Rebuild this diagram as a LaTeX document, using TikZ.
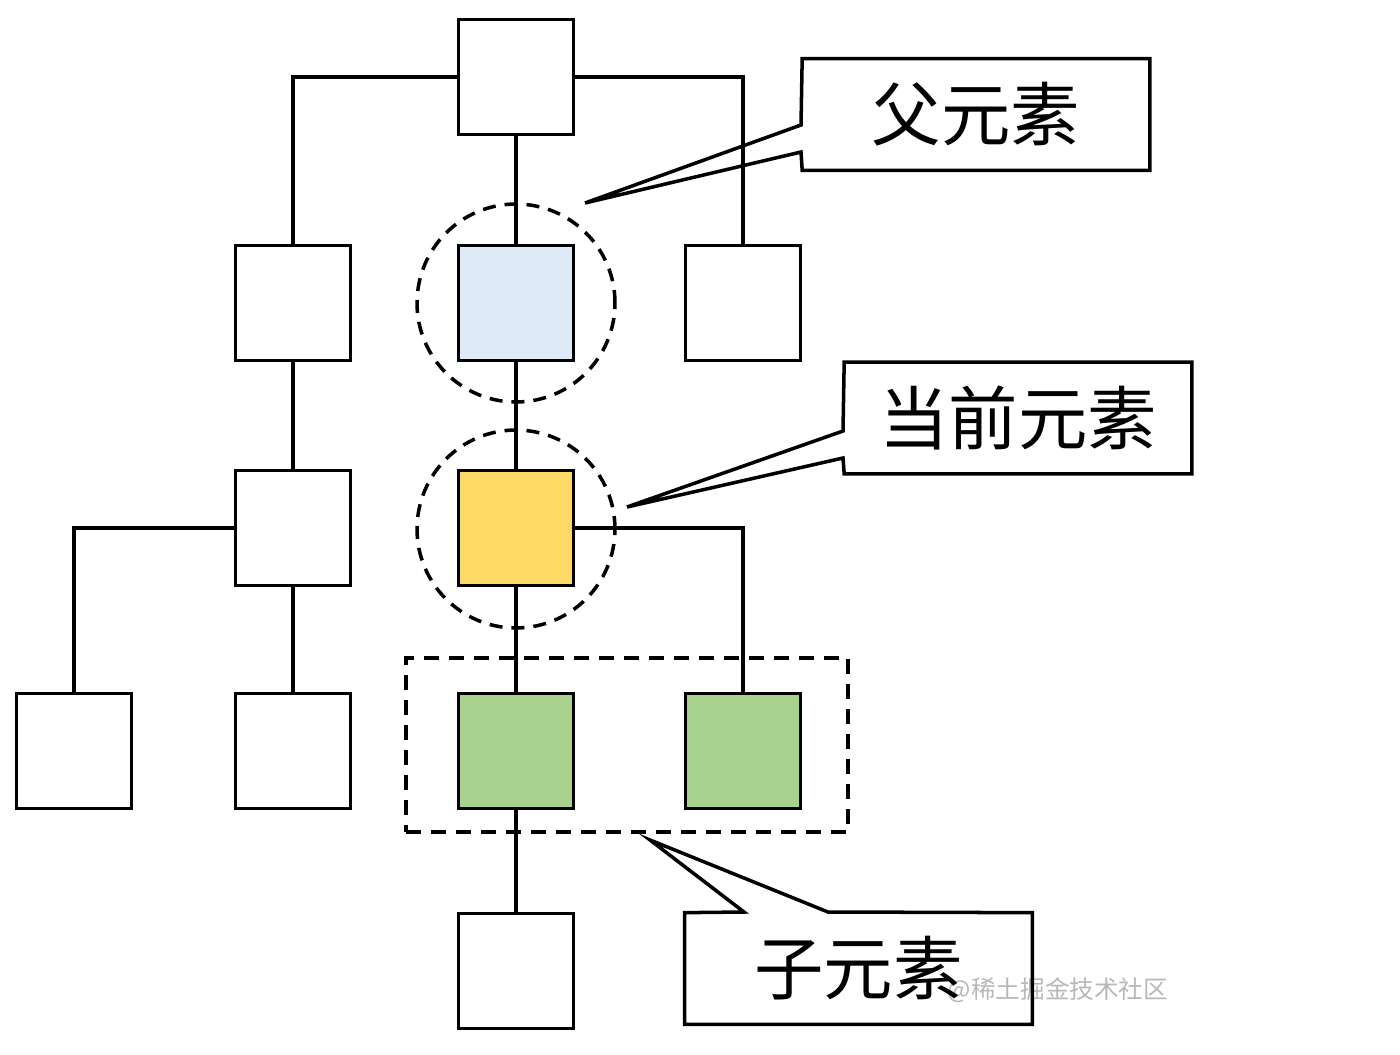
\documentclass[tikz,border=0pt]{standalone}
\usepackage{fontspec}
\newfontfamily\cjk{Noto Sans CJK SC}
\usetikzlibrary{calc}
\definecolor{parentblue}{HTML}{DEEAF6}
\definecolor{curyellow}{HTML}{FFD966}
\definecolor{childgreen}{HTML}{A9D18E}
\tikzset{
  elbox/.style={draw, line width=2pt, minimum size=2.3cm, inner sep=0pt, fill=white},
  conn/.style={line width=1.9pt},
  ring/.style={draw, circle, line width=2pt, dash pattern=on 0.26cm off 0.18cm, minimum size=3.96cm, inner sep=0pt},
  groupbox/.style={draw, line width=2pt, dash pattern=on 0.3cm off 0.2cm},
  calloutbox/.style={minimum width=6.94cm, minimum height=2.22cm, inner sep=0pt, font=\cjk\fontsize{39.5}{39.5}\selectfont},
  callout/.style={line width=2pt, line join=miter}
}
\begin{document}
\begin{tikzpicture}[x=0.02cm, y=-0.02cm]
\useasboundingbox (0,0) rectangle (1400,1055);
% boxes
\node[elbox] (top) at (516,77) {};
\node[elbox] (l2) at (293,303) {};
\node[elbox, fill=parentblue] (m2) at (516,303) {};
\node[elbox] (r2) at (743,303) {};
\node[elbox] (l3) at (293,528) {};
\node[elbox, fill=curyellow] (m3) at (516,528) {};
\node[elbox] (ll4) at (74,751) {};
\node[elbox] (l4) at (293,751) {};
\node[elbox, fill=childgreen] (m4) at (516,751) {};
\node[elbox, fill=childgreen] (r4) at (743,751) {};
\node[elbox] (m5) at (516,971) {};
% connectors
\draw[conn] (top.west) -| (l2.north);
\draw[conn] (top.east) -| (r2.north);
\draw[conn] (top.south) -- (m2.north);
\draw[conn] (m2.south) -- (m3.north);
\draw[conn] (l2.south) -- (l3.north);
\draw[conn] (l3.west) -| (ll4.north);
\draw[conn] (l3.south) -- (l4.north);
\draw[conn] (m3.east) -| (r4.north);
\draw[conn] (m3.south) -- (m4.north);
\draw[conn] (m4.south) -- (m5.north);
% highlight rings and group
\node[ring] (ring1) at (516,303) {};
\node[ring] (ring2) at (516,529) {};
\node[groupbox, minimum width=8.84cm, minimum height=3.48cm, inner sep=0pt] (grp) at (627,745) {};
% watermark
\node[text=black!28, font=\cjk\fontsize{14}{14}\selectfont, inner sep=0pt] (wm) at (1058,990) {@稀土掘金技术社区};
% callout 1
\node[calloutbox] (cb1) at (976,114.5) {父元素};
\coordinate (tip1) at (585,203);
\coordinate (a1u) at (801,125);
\coordinate (a1l) at (801,152);
\draw[callout] (cb1.north west) -- (cb1.north east) -- (cb1.south east) -- (cb1.south west) -- (a1l) -- (tip1) -- (a1u) -- cycle;
% callout 2
\node[calloutbox] (cb2) at (1018,418) {当前元素};
\coordinate (tip2) at (627,507);
\coordinate (a2u) at (843,431);
\coordinate (a2l) at (843,458);
\draw[callout] (cb2.north west) -- (cb2.north east) -- (cb2.south east) -- (cb2.south west) -- (a2l) -- (tip2) -- (a2u) -- cycle;
% callout 3
\node[calloutbox] (cb3) at (858.5,968.5) {子元素};
\coordinate (tip3) at (650,840);
\coordinate (a3l) at (744,912);
\coordinate (a3r) at (828,912);
\draw[callout] (cb3.north west) -- (a3l) -- (tip3) -- (a3r) -- (cb3.north east) -- (cb3.south east) -- (cb3.south west) -- cycle;
\end{tikzpicture}
\end{document}
